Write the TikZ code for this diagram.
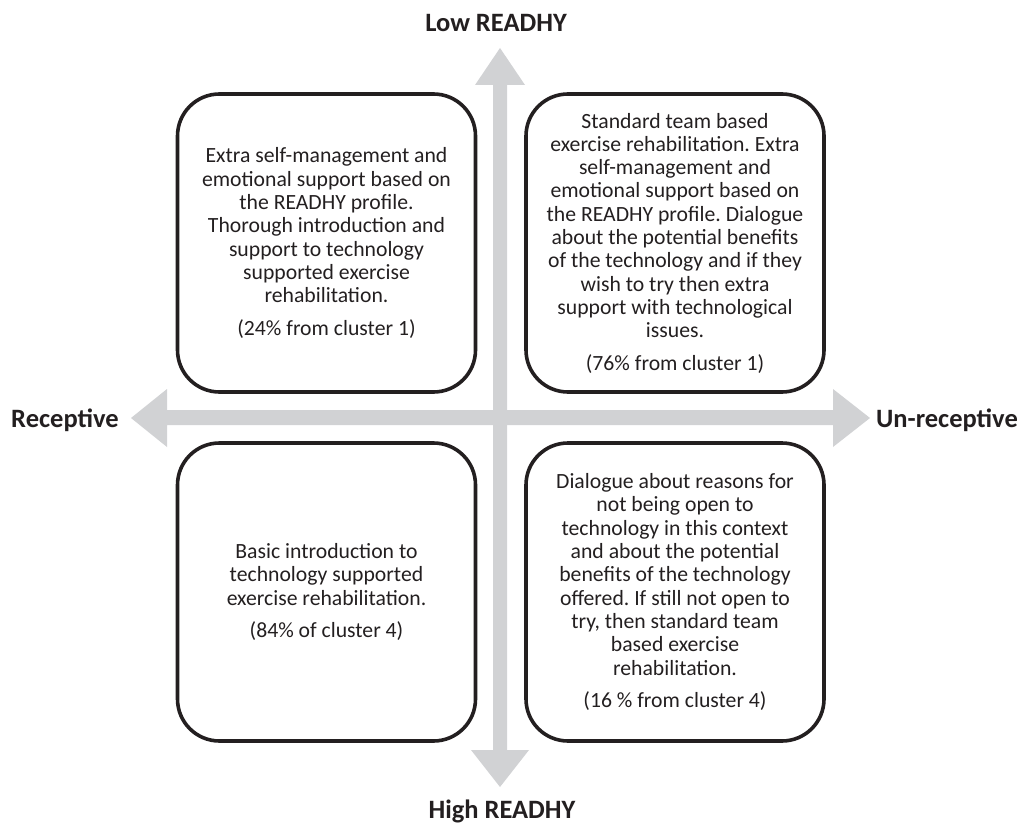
\documentclass[tikz,border=0pt]{standalone}
\usepackage{fontspec}
\setmainfont{Carlito}
\frenchspacing
\definecolor{axisgray}{HTML}{D1D2D4}
\definecolor{inkblack}{HTML}{231F20}
\begin{document}
\begin{tikzpicture}[x=1pt,y=-1pt,
  quad/.style={draw=inkblack, line width=3.6pt, rounded corners=42pt,
    minimum width=298pt, minimum height=298pt, inner sep=0pt,
    align=center, text=inkblack, font=\fontsize{21.7}{23.3}\selectfont},
  axislabel/.style={text=inkblack, font=\fontsize{26.5}{28}\selectfont\bfseries, inner sep=0pt},
  axisfill/.style={fill=axisgray, draw=none}]
\useasboundingbox (0,0) rectangle (1022,826);
% vertical axis
\fill[axisfill] (493,85) -- (475,85) -- (500,48) -- (525,85) -- (507,85)
  -- (507,750) -- (529,750) -- (500,787) -- (471,750) -- (493,750) -- cycle;
% horizontal axis
\fill[axisfill] (167,410) -- (167,389) -- (131,418) -- (167,447) -- (167,425)
  -- (833,425) -- (833,447) -- (870,418) -- (833,389) -- (833,410) -- cycle;
% labels
\node[axislabel, anchor=base] (low) at (496,32) {Low READHY};
\node[axislabel, anchor=base] (high) at (502,818) {High READHY};
\node[axislabel, anchor=base] (rec) at (65,427) {Receptive};
\node[axislabel, anchor=base] (unrec) at (947,427) {Un-receptive};
% boxes
\node[quad] (tl) at (326.5,243) {Extra self-management and\\emotional support based on\\the READHY profile.\\Thorough introduction and\\support to technology\\supported exercise\\rehabilitation.\\[9pt](24\% from cluster 1)};
\node[quad] (tr) at (675,243) {Standard team based\\exercise rehabilitation. Extra\\self-management and\\emotional support based on\\the READHY profile. Dialogue\\about the potential benefits\\of the technology and if they\\wish to try then extra\\support with technological\\issues.\\[9pt](76\% from cluster 1)};
\node[quad] (bl) at (326.5,592) {Basic introduction to\\technology supported\\exercise rehabilitation.\\[9pt](84\% of cluster 4)};
\node[quad] (br) at (675,592) {Dialogue about reasons for\\not being open to\\technology in this context\\and about the potential\\benefits of the technology\\offered. If still not open to\\try, then standard team\\based exercise\\rehabilitation.\\[9pt](16 \% from cluster 4)};
\end{tikzpicture}
\end{document}
